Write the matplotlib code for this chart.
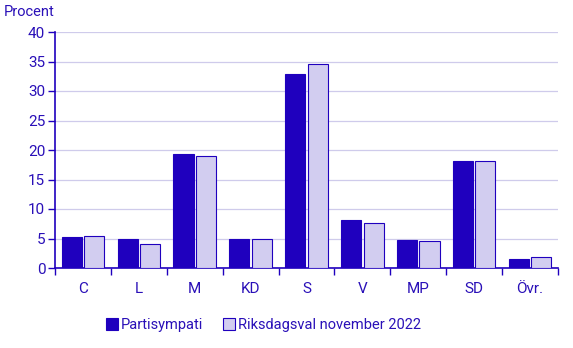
import matplotlib.pyplot as plt
import numpy as np

categories = ["C", "L", "M", "KD", "S", "V", "MP", "SD", "Övr."]
partisympati = [5.3, 5.0, 19.4, 5.0, 32.8, 8.2, 4.7, 18.2, 1.6]
riksdagsval = [5.4, 4.1, 18.9, 5.0, 34.6, 7.7, 4.5, 18.2, 1.9]
series_labels = ["Partisympati", "Riksdagsval november 2022"]

dark = "#1f00be"
light = "#d2cdf0"
text_color = "#2a10b8"
grid_color = "#cfcbeb"

plt.rcParams["font.family"] = ["Roboto", "DejaVu Sans"]
plt.rcParams["font.size"] = 10

fig = plt.figure(figsize=(5.73, 3.48), dpi=100)
ax = fig.add_axes([55 / 573, 1 - 268 / 348, 503 / 573, 236 / 348])

x = np.arange(len(categories))
w = 0.36
ax.bar(x - 0.2, partisympati, width=w, color=dark, edgecolor=dark, linewidth=0.8,
       label=series_labels[0], zorder=3)
ax.bar(x + 0.2, riksdagsval, width=w, color=light, edgecolor=dark, linewidth=0.8,
       label=series_labels[1], zorder=3)

ax.set_xlim(-0.5, len(categories) - 0.5)
ax.set_ylim(0, 40)
ax.set_yticks(np.arange(0, 41, 5))
ax.yaxis.grid(True, color=grid_color, linewidth=0.9, zorder=0)

# category labels centred, tick marks on the boundaries
ax.set_xticks(x)
ax.set_xticklabels(categories, color=text_color, fontsize=11)
ax.tick_params(axis="x", which="major", length=0, pad=10)
ax.set_xticks(np.arange(-0.5, len(categories), 1), minor=True)
ax.tick_params(axis="x", which="minor", length=5, color=dark, width=1)
ax.tick_params(axis="y", length=5, color=dark, width=1, labelcolor=text_color,
               labelsize=11, pad=2)

for side in ["top", "right"]:
    ax.spines[side].set_visible(False)
for side in ["left", "bottom"]:
    ax.spines[side].set_color(dark)
    ax.spines[side].set_linewidth(1.2)

fig.text(4 / 573, 1 - 12 / 348, "Procent", color=text_color, fontsize=10.5, va="center")

fig.legend(loc="center", bbox_to_anchor=(0.46, 1 - 325 / 348), ncol=2, frameon=False,
           handlelength=0.8, handleheight=0.8, handletextpad=0.2, columnspacing=1.4,
           fontsize=10.5, labelcolor=text_color)

fig.savefig("out.png", dpi=100)
